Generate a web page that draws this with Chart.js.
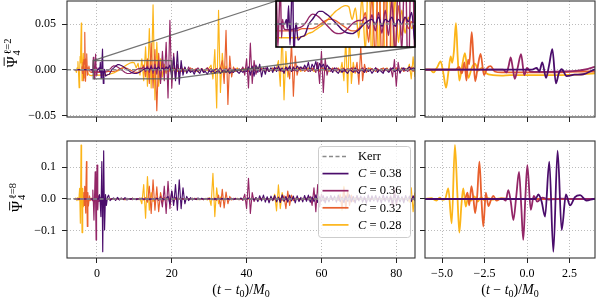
<!DOCTYPE html>
<html>
<head>
<meta charset="utf-8">
<script src="https://cdn.jsdelivr.net/npm/chart.js@4.4.1/dist/chart.umd.min.js"></script>
<style>
  html, body { margin: 0; padding: 0; background: #ffffff; }
  #fig { position: relative; width: 596px; height: 300px; overflow: hidden; background: #ffffff; }
  #fig canvas { position: absolute; left: 0; top: 0; width: 596px; height: 300px; }
</style>
</head>
<body>
<div id="fig">
  <canvas id="pTL" width="596" height="300"></canvas>
  <canvas id="pTR" width="596" height="300"></canvas>
  <canvas id="pBL" width="596" height="300"></canvas>
  <canvas id="pBR" width="596" height="300"></canvas>
  <canvas id="pIN" width="596" height="300"></canvas>
</div>
<script>
// ======================= DATA =======================
// Waveform values are given in units of 1e-3.
// Early part (merger region) : explicit sample times + values.
// Late part : samples on the regular record grid starting at GRID_START with GRID_STEP.
const MILLI = 1e-3;
const GRID_START = 4.5;
const GRID_STEP = 0.5;

const SERIES_NAMES = ['C = 0.38', 'C = 0.36', 'C = 0.32', 'C = 0.28'];
const SERIES_C = ['0.38', '0.36', '0.32', '0.28'];

// ---- l = 2 ----
const L2_C38_T = [-6, 0.3, 0.57, 0.72, 0.9, 1.12, 1.3, 1.49, 1.7, 1.87, 2.04, 2.33, 2.8, 3.31, 3.96];
const L2_C38_V = [0, 0, 2, -2, 8, -9, 5, 22.5, -15, -4, 0.5, -7, -5.5, -5, 0];
const L2_C38_GRID = [
  2, 4, 5.5, 5.5, 4.5, 3.5, 2, 0.5, -1, -2.5, -3.5, -4, -4.2, -3.5, -2.5, -1, 0.5, 1.5,
  2, 0, 3, -1, 2, 1, 3, -1, 2, 0, 3, 1,
  5, -8, 14, -12, 20, -16, 10, -6, 3,
  -4, 0, -3, -1, -5, 0, -2, -4, 1, -3, -2, -5, -1, -3, 0, -4, -2, -1, -4, -2, 0, -3, -1, -4, -2, -3, 0, -2, -4, -1, -3, -1, -2,
  3, -6, 4, -7, 5, -3, 6, -8, 2, -5, 3, -2,
  2, -3, 3, -2, 4, -1, 2, -4, 3, 0, 4, -2, 3, -1, 4, 1, 3, 0,
  5, 1, 8, -2, 6, 2, 9, -1, 7, 3, 6, 0, 5, 2,
  1, -3, 2, -2, -4, 0, -3, 1, -2, -4, 0, -1, -3, 2, -2, -4, 0, -1, -3, 1, -2, 0, -4, -1, 2, -3, 0, -2, -4, 1, -1, -3, 0, 2, -2, -1, 1, -3, 0, 2, -1, 1, 3, 0, 2, 1
];

const L2_C36_T = [-6, -1.4, -1.2, -1.08, -0.96, -0.84, -0.72, -0.55, -0.35, -0.16, 0.0, 0.2, 0.5, 1, 2, 3, 3.6, 4];
const L2_C36_V = [0, 0, -3, 4, 13.4, 2, -10, 2, 17, -6, 2, -2, -2.5, -2.5, -2, -1, 1, 3];
const L2_C36_GRID = [
  4.3, 4, 3, 1.5, 0, -1.5, -3, -4, -4.2, -4, -3, -1.5, 0, 1, 1.5, 1.5,
  3, -2, 4, -3, 5, -4, 6, -5,
  10, -15, 20, -12, 30, -31, 54, -20, 18, -10, 6,
  -5, 4, -3, 2, -2, 3, -1, 1, -2, 0, 2, -1, 1, -3, 0, 2, -1, 1, -2, 0, 1, -1, 2, -2, 0, 1, -1, 2, -1, 0, 1, -2, 1, -1, 3,
  -6, 12, -20, 29, -15, 10, -5,
  3, -2, 1, -1, 2, 0, -2, 1, -1, 0, 2, -1, 1, -2, 0, 1, -1, 2, 0, -1, 1, -2, 0, 1, -1, 2, 0, -2, 1, -1, 2, -3,
  8, -15, 20, -25, 12, -6,
  3, -2, 1, -1, 2, 0, -1, 1, -2, 0, 1, -1, 2, 0, -2, 1, -1, 0, 2, -1, 1, -2, 0, 1, -1, 2, 0, -1, 1, -2, 0, 1, -1, 2,
  -8, 11, -18, 8, -4,
  2, -1, 1, -2, 0, 1, -1, 1
];

const L2_C32_T = [-6, -4.2, -4.0, -3.83, -3.68, -3.56, -3.47, -3.4, -3.25, -3.15, -3.05, -2.89, -2.73, -2.53, -2.33, -2.14, -1.9, -1.5, -1, 0, 1, 2, 3, 4];
const L2_C32_V = [0, 0, 3, -4, 8, -12, 11, 6, 41, 12, -12.7, 4, 17.4, -6, 2, 4, -2, -3, -3, -3, -3, -3, -2, -2];
const L2_C32_GRID = [
  -2, -1.5, -0.5, 0.5, 1.5, 2, 2, 1.5, 0.5, -0.5, -1.5, -2.5, -3, -3, -2, 0,
  5, -8, 12, -15, 29, -20, 22, -45, 18, -12, 8, -5, 3,
  -2, 1, -1, 2, 0, -1, 1, -2, 0, 1, -1, 0, 2, -1, 0, 1, -2, 0, 1, -1, 0, 2, -1, 1, -2, 0, 1, -1, 2,
  10, -15, 43, -38, 15, -8,
  3, -2, 1, -1, 0, 2, -1, 1, -2, 0, 1, -1, 0, 2, -1, 0, 1, -2, 1, 0, -1, 2, 0, -1, 1, -2, 0, 1, -1, 2,
  -10, 30, -29, 15, -6,
  3, -1, 2, -2, 0, 1, -1, 2, 0, -1, 1, -2, 0, 2, -1, 0, 1, -1, 2, 0, -2, 1, 0, -1, 2, -1, 0, 1, -2, 3, -3,
  8, -16, 25, -12, 6,
  -3, 2, -1, 1, 0, -2, 1, -1, 0, 2, -1, 1, -2, 0, 1, -1, 2, 0, -1, 1, -2, 0, 1, -1, 3, -2, 1
];

const L2_C28_T = [-6, -5.7, -5.5, -5.3, -5.08, -4.92, -4.76, -4.62, -4.49, -4.4, -4.3, -4.18, -4.08, -3.98, -3.82, -3.65, -3.45, -3.25, -3.06, -2.85, -2.67, -2.4, -2.0, -1.5, -1, 0, 1, 2, 3, 4];
const L2_C28_V = [0, 0, -3, 2, 9, -4, -19.7, -2, 14.5, 7.5, 20, 51, 15, -12, 4, 18, -9, 2, 6.5, -1, 2, -4, -6, -6.5, -6, -6, -6, -6, -5.5, -4];
const L2_C28_GRID = [
  -3.5, -2.5, -1.5, -0.5, 1, 2.5, 4, 5.5, 6.5, 7.5, 8, 7.5, 2, 7,
  -6, 12, -12, 25, -18, 45, -20, 71, -33, 30, -18,
  12, -8, 6, -4, 3, -2, 1,
  -1, 1, -2, 0, -1, 1, -2, -1, 0, -2, 1, -1, -2, 0, -1, 1, -2, 0, -1, 2,
  5, -10, 22, -42, 65, -25, 18, -8,
  4, -3, 2, -2, 1, -1, 2, -1, 0, -2, 1, 0, -1, 1, -2, 0, 1, -1, 0, 2, -1, 0, 1, -2, 0, 1, -1, 2,
  10, -18, 45, -33, 20, -8,
  3, -2, 1, -1, 2, 0, -2, 1, -1, 0, 2, -1, 1, -2, 0, 1, -1, 2, 0, -1, 1, -2, 0, 1, -1, 0, 2, -3,
  8, -12, 35, -25, 40, -15, 8,
  -4, 2, -1, 1, -2, 0, 1, -1, 2, 0, -1, 1, -2, 0, 1, -1, 0, 2, -1, 1, 0, -2, 1, -1, 0, 2, -1, 1, 0,
  6, -10, 14, -8
];

// ---- l = 8 ----
const L8_C38_T = [-6, 0.5, 0.67, 0.86, 1.06, 1.31, 1.55, 1.8, 2.04, 2.29, 2.53, 2.82, 3.12, 3.5, 3.9];
const L8_C38_V = [0, 0, 14, -8, -55, 117, -165, 151, -97, 14, -20, 6, 12, -5, 0];
const L8_C38_GRID = [
  3, -4, 5, -3, 2, -2, 4, -3, 1, -1, 2, 0, -2, 1, -1, 2, 0, -1, 1, -2, 0, 1, -1, 2, 0, -1, 1, -2, 1,
  8, -15, 25, -20, 45, -35, 60, -30, 35, -15,
  8, -5, 4, -3, 2, -2, 3, -1, 2, -2, 1, -1, 2, 0, -2, 1, -1, 2, -1, 1, -2, 0, 1, -1, 2, -2, 1, 0, -1, 2, -2, 1, -1, 3, -2, 2, -3, 4,
  -8, 10, -6, 12, -10, 7, -12, 9, -5, 11, -9, 6, -11, 13, -7, 8, -10, 12, -6, 9,
  -12, 10, -8, 5, -9, 11, -7, 12, -10, 6, -8, 13, -11, 7, -6, 10, -12, 8, -9, 11,
  -5, 9, -10, 12, -8, 6, -11, 10, -7, 13, -9, 8, -12, 11, -6, 9, -10, 7, -13, 12,
  -8, 10, -6, 11, -9, 8, -12, 13, -7, 9, -10, 6, -11, 12, -8, 10, -9, 7, -12, 11,
  -6, 9, -8, 10, -5
];

const L8_C36_T = [-6, -1.4, -1.25, -1.1, -0.95, -0.8, -0.63, -0.47, -0.34, -0.22, -0.1, 0.02, 0.22, 0.4, 0.6, 0.9, 1.3, 2, 3, 4];
const L8_C36_V = [0, 0, -5, 28, -10, -66, 10, 85, -20, -128, 0, 106, -34, 10, -8, 4, -2, 1, 0, 0];
const L8_C36_GRID = [
  2, -3, 1, -2, 3, -1, 0, 2, -1, 1, -2, 0, 1, -1, 2, 0, -1, 1, -2, 2, -1, 1, -3, 3, -4,
  8, -25, 40, -45, 55, -30, 25, -10,
  5, -3, 2, -1, 1, -2, 0, 1, -1, 2, 0, -1, 1, -2, 0, 1, -1, 2, -1, 0, 1, -2, 1, 0, -1, 2, -1, 1, 0, -2, 1, -1, 2, 0, -2, 3, -4,
  15, -30, 65, -45, 20, -8,
  4, -2, 1, -1, 2, 0, -1, 1, -2, 0, 1, -1, 2, -1, 0, 1, -2, 1, 0, -1, 2, -1, 1, -2, 0, 1, -1, 3, -3,
  8, -20, 35, -40, 45, -25, 15, -6,
  3, -2, 1, -1, 2, 0, -1, 1, -2, 0, 1, -1, 2, -1, 0, 1, -2, 1, 0, -1, 2, -1, 1, -2, 0, 1, -1, 2, 0, -1, 1, -2, 1, 3, -4,
  10, -25, 35, -20, 10, -5,
  3, -2, 1, -1, 2, -1, 1, 0
];

const L8_C32_T = [-6, -3.65, -3.5, -3.4, -3.27, -3.15, -3.05, -2.93, -2.8, -2.68, -2.57, -2.42, -2.27, -2.12, -1.98, -1.8, -1.5, -1, 0, 2, 4];
const L8_C32_V = [0, 0, 20, -20, 40, 0, -44, 10, 117, 0, -86, 20, -22, -3, 10, -5, 2, 0, 0, 0, 0];
const L8_C32_GRID = [
  1, -1, 2, 0, -1, 1, -2, 0, 1, -1, 2, 0, -1, 1, -2, 2, -3, 4,
  -10, 40, -45, 60, -35, 38, -40, 20, -10,
  5, -3, 2, -1, 1, -2, 0, 1, -1, 2, 0, -1, 1, -2, 0, 1, -1, 2, -1, 0, 1, -2, 1, 0, -1, 2, -1, 3, -4,
  12, -25, 30, -28, 22, -15, 8,
  -3, 2, -1, 1, -2, 0, 1, -1, 2, 0, -1, 1, -2, 0, 1, -1, 2, -1, 0, 1, -2, 1, 0, -1, 2, -1, 3, -4,
  10, -30, 25, -20, 12, -5,
  3, -2, 1, -1, 2, 0, -1, 1, -2, 0, 1, -1, 2, -1, 0, 1, -2, 1, 0, -1, 2, -2, 3, -4,
  10, -25, 35, -30, 25, -20, 12, -8, 4,
  -2, 1, -1, 2, 0, -1, 1, -2, 0, 1, -1, 2, -1, 0, 1, -2, 1, 0, -1, 2, -1, 1, -2, 0, 1, -1, 2, 0, -1, 1, -2, 1
];

const L8_C28_T = [-6, -5.62, -5.45, -5.33, -5.14, -4.95, -4.8, -4.63, -4.43, -4.24, -4.1, -3.98, -3.86, -3.75, -3.6, -3.45, -3.3, -3.1, -2.9, -2.7, -2.5, -2.3, -2.0, -1.6, -1.2, 0, 2, 4];
const L8_C28_V = [0, 3, -2, -5, 4, -3, 2, 33, -76, 169, 20, -105, -20, 33, -24, 10, -6, 8, -8, 6, -4, 3, -2, 2, 0, 0, 0, 0];
const L8_C28_GRID = [
  1, -1, 2, 0, -1, 1, -2, 0, 1, -1, 2, -1, 1, -2, 3,
  -15, 45, -60, 70, -35, 20,
  -8, 4, -2, 1, -1, 2, 0, -1, 1, -2, 0, 1, -1, 2, -1, 0, 1, -2, 1, 0, -1, 2, -1, 1, -2, 0, 1, -1, 2, -3, 4,
  -20, 80, -55, 35, -15,
  6, -3, 2, -1, 1, -2, 0, 1, -1, 2, 0, -1, 1, -2, 0, 1, -1, 2, -1, 0, 1, -2, 1, 0, -1, 2, -1, 3, -5,
  15, -37, 44, -30, 20, -8,
  4, -2, 1, -1, 2, 0, -1, 1, -2, 0, 1, -1, 2, -1, 0, 1, -2, 1, 0, -1, 2, -1, 1, -2, 0, 1, -1, 3, -4,
  15, -35, 40, -28, 20, -8,
  4, -2, 1, -1, 2, 0, -1, 1, -2, 0, 1, -1, 2, -1, 0, 1, -2, 1, 0, -1, 2, -1, 1, -2, 0, 1, -1, 2, 0, -2, 3,
  -10, 35, -40, 20
];

// Kerr reference (flat at zero over the window)
const KERR_T = [-8, 85];
const KERR_V = [0, 0];

// axes / ticks
const X_RANGE_LONG = [-8, 85];
const X_RANGE_ZOOM = [-6, 4];
const X_RANGE_INSET = [-1, 20];
const Y_RANGE_L2 = [-0.0518, 0.0752];
const Y_RANGE_L8 = [-0.1846, 0.1814];
const Y_RANGE_INSET = [-0.01, 0.01];
const X_TICKS_LONG = [0, 20, 40, 60, 80];
const X_LABELS_LONG = ['0', '20', '40', '60', '80'];
const X_TICKS_ZOOM = [-5, -2.5, 0, 2.5];
const X_LABELS_ZOOM = ['\u22125.0', '\u22122.5', '0.0', '2.5'];
const Y_TICKS_L2 = [-0.05, 0, 0.05];
const Y_LABELS_L2 = ['\u22120.05', '0.00', '0.05'];
const Y_TICKS_L8 = [-0.1, 0, 0.1];
const Y_LABELS_L8 = ['\u22120.1', '0.0', '0.1'];

// ======================= STYLE =======================
const COLORS = ['#4a0c6b', '#932667', '#e8602d', '#fcb519'];
const KERR_COLOR = '#8a8a8a';
const FONT = '"Liberation Serif", "DejaVu Serif", serif';

// ======================= BUILD =======================
function buildSeries(fineT, fineV, grid) {
  const pts = fineT.map((t, i) => ({ x: t, y: fineV[i] * MILLI }));
  grid.forEach((v, i) => pts.push({ x: GRID_START + i * GRID_STEP, y: v * MILLI }));
  return pts;
}
const L2 = [
  buildSeries(L2_C38_T, L2_C38_V, L2_C38_GRID),
  buildSeries(L2_C36_T, L2_C36_V, L2_C36_GRID),
  buildSeries(L2_C32_T, L2_C32_V, L2_C32_GRID),
  buildSeries(L2_C28_T, L2_C28_V, L2_C28_GRID)
];
const L8 = [
  buildSeries(L8_C38_T, L8_C38_V, L8_C38_GRID),
  buildSeries(L8_C36_T, L8_C36_V, L8_C36_GRID),
  buildSeries(L8_C32_T, L8_C32_V, L8_C32_GRID),
  buildSeries(L8_C28_T, L8_C28_V, L8_C28_GRID)
];
const KERR = KERR_T.map((t, i) => ({ x: t, y: KERR_V[i] }));

function datasets(list, width, smooth, withKerr) {
  const ds = [];
  if (withKerr) ds.push({ label: 'Kerr', data: KERR, borderColor: KERR_COLOR, borderWidth: 1.4, borderDash: [4, 2.5], fill: false, pointRadius: 0 });
  list.forEach((d, i) => ds.push({
    label: SERIES_NAMES[i], data: d, borderColor: COLORS[i], borderWidth: width, fill: false, pointRadius: 0,
    cubicInterpolationMode: smooth ? 'monotone' : 'default'
  }));
  return ds;
}

function labelFor(ticks, labels) {
  return v => { const i = ticks.findIndex(t => Math.abs(t - v) < 1e-9); return i < 0 ? '' : labels[i]; };
}
function axis(range, ticks, labels, size, isX, show) {
  return {
    type: 'linear', display: show !== false, min: range[0], max: range[1],
    afterBuildTicks: s => { s.ticks = ticks.map(v => ({ value: v })); },
    afterFit: s => {
      if (isX) s.height = size; else s.width = size;
      s.paddingTop = 0; s.paddingBottom = 0; s.paddingLeft = 0; s.paddingRight = 0;
    },
    ticks: { callback: labelFor(ticks, labels), autoSkip: false, maxRotation: 0, minRotation: 0, includeBounds: false,
             padding: isX ? 4 : 6, color: '#000', font: { family: FONT, size: 12 } },
    grid: { color: '#b4b4b4', lineWidth: 0.9, drawTicks: true, tickLength: 5, tickColor: '#222', tickWidth: 1 },
    border: { display: false, dash: [1, 2] }
  };
}

// ---- plugins ----
const framePlugin = {
  id: 'frame',
  afterDraw(chart, args, opts) {
    const { ctx, chartArea: a } = chart;
    ctx.save();
    ctx.strokeStyle = opts.color || '#333';
    ctx.lineWidth = opts.width || 1.1;
    ctx.strokeRect(a.left, a.top, a.right - a.left, a.bottom - a.top);
    ctx.restore();
  }
};
const whiteBg = {
  id: 'whiteBg',
  beforeDraw(chart) {
    const { ctx, chartArea: a } = chart;
    ctx.save(); ctx.fillStyle = '#ffffff';
    ctx.fillRect(a.left, a.top, a.right - a.left, a.bottom - a.top);
    ctx.restore();
  }
};
function drawYLabel(ctx, cx, cy, sup) {
  const big = '15px ' + FONT, small = '10.5px ' + FONT;
  ctx.save();
  ctx.translate(cx, cy); ctx.rotate(-Math.PI / 2);
  ctx.fillStyle = '#000'; ctx.textBaseline = 'alphabetic'; ctx.textAlign = 'left';
  ctx.font = big; const wPsi = ctx.measureText('\u03A8').width;
  ctx.font = small; const wSup = ctx.measureText(sup).width;
  const total = wPsi + 1.5 + wSup;
  const x0 = -total / 2;
  ctx.font = big; ctx.fillText('\u03A8', x0, 0);
  ctx.fillRect(x0 + 1.5, -12.8, wPsi - 2.5, 0.9);
  ctx.font = small;
  ctx.fillText(sup, x0 + wPsi + 1.5, -6);
  ctx.fillText('4', x0 + wPsi + 0.8, 3.2);
  ctx.restore();
}
function drawXLabel(ctx, cx, baseY) {
  const R = '14px ' + FONT, I = 'italic 14px ' + FONT, S = '10px ' + FONT;
  const parts = [['(', R, 0], ['t', I, 0], [' \u2212 ', R, 0], ['t', I, 0], ['0', S, 3], [')/', R, 0], ['M', I, 0], ['0', S, 3]];
  ctx.save(); ctx.fillStyle = '#000'; ctx.textBaseline = 'alphabetic'; ctx.textAlign = 'left';
  let total = 0;
  parts.forEach(p => { ctx.font = p[1]; total += ctx.measureText(p[0]).width; });
  let x = cx - total / 2;
  parts.forEach(p => { ctx.font = p[1]; ctx.fillText(p[0], x, baseY + p[2]); x += ctx.measureText(p[0]).width; });
  ctx.restore();
}
const axisLabels = {
  id: 'axisLabels',
  afterDraw(chart, args, opts) {
    const { ctx, chartArea: a } = chart;
    if (opts.ySup) drawYLabel(ctx, opts.yX, (a.top + a.bottom) / 2 + (opts.yShift || 0), opts.ySup);
    if (opts.xLabel) drawXLabel(ctx, (a.left + a.right) / 2, opts.xBase);
  }
};
const legendBox = {
  id: 'legendBox',
  afterDraw(chart) {
    const { ctx, chartArea: a } = chart;
    const w = 92, h = 91, x = a.right - 5 - w, y = a.top + 5;
    ctx.save();
    ctx.beginPath();
    if (ctx.roundRect) ctx.roundRect(x + 0.5, y + 0.5, w, h, 3); else ctx.rect(x + 0.5, y + 0.5, w, h);
    ctx.fillStyle = 'rgba(255,255,255,0.8)'; ctx.fill();
    ctx.strokeStyle = '#cccccc'; ctx.lineWidth = 1; ctx.stroke();
    const rows = [{ name: 'Kerr', color: KERR_COLOR, dash: [4, 2.5] }].concat(
      SERIES_C.map((c, i) => ({ c: c, color: COLORS[i], dash: [] })));
    rows.forEach((r, i) => {
      const cy = y + 10.5 + i * 17.1;
      ctx.beginPath(); ctx.setLineDash(r.dash); ctx.strokeStyle = r.color; ctx.lineWidth = 1.7;
      ctx.moveTo(x + 4.5, cy); ctx.lineTo(x + 30.5, cy); ctx.stroke();
      ctx.setLineDash([]);
      ctx.fillStyle = '#000'; ctx.textBaseline = 'middle'; ctx.textAlign = 'left';
      let tx = x + 40;
      if (r.name) { ctx.font = '12.5px ' + FONT; ctx.fillText(r.name, tx, cy + 0.5); }
      else {
        ctx.font = 'italic 12.5px ' + FONT; ctx.fillText('C', tx, cy + 0.5); tx += ctx.measureText('C').width;
        ctx.font = '12.5px ' + FONT; ctx.fillText(' = ' + r.c, tx, cy + 0.5);
      }
    });
    ctx.restore();
  }
};

function panelChart(id, o) {
  return new Chart(document.getElementById(id), {
    type: 'line',
    data: { datasets: o.datasets },
    options: {
      responsive: false, animation: false, devicePixelRatio: 1, events: [],
      layout: { padding: o.pad },
      elements: { point: { radius: 0 }, line: { tension: 0, borderJoinStyle: 'round' } },
      plugins: Object.assign({ legend: { display: false }, tooltip: { enabled: false } }, o.pluginOpts || {}),
      scales: { x: o.x, y: o.y }
    },
    plugins: o.plugins
  });
}

// inset (zoom of the l=2 panel) — built first so the main panel can link to it
const insetChart = panelChart('pIN', {
  datasets: datasets(L2, 1.4, true, true),
  pad: { left: 276, top: 1, right: 181, bottom: 253 },
  x: axis(X_RANGE_INSET, [], [], 0, true, false),
  y: axis(Y_RANGE_INSET, [], [], 0, false, false),
  plugins: [whiteBg, framePlugin],
  pluginOpts: { frame: { color: '#000', width: 1.6 } }
});

const zoomMarker = {
  id: 'zoomMarker',
  afterDatasetsDraw(chart) {
    const { ctx } = chart, xs = chart.scales.x, ys = chart.scales.y;
    const x0 = xs.getPixelForValue(X_RANGE_INSET[0]), x1 = xs.getPixelForValue(X_RANGE_INSET[1]);
    const y0 = ys.getPixelForValue(Y_RANGE_INSET[1]), y1 = ys.getPixelForValue(Y_RANGE_INSET[0]);
    const ia = insetChart.chartArea;
    ctx.save();
    ctx.strokeStyle = 'rgba(90,90,90,0.85)'; ctx.lineWidth = 1.3;
    ctx.strokeRect(x0, y0, x1 - x0, y1 - y0);
    ctx.beginPath();
    ctx.moveTo(x0, y0); ctx.lineTo(ia.left, ia.top);
    ctx.moveTo(x1, y1); ctx.lineTo(ia.right, ia.bottom);
    ctx.stroke();
    ctx.restore();
  }
};

const EMPTY5 = ['', '', '', '', ''], EMPTY4 = ['', '', '', ''], EMPTY3 = ['', '', ''];

panelChart('pTL', {
  datasets: datasets(L2, 1.15, false, true),
  pad: { left: 0, top: 1, right: 181, bottom: 175 },
  x: axis(X_RANGE_LONG, X_TICKS_LONG, EMPTY5, 8, true),
  y: axis(Y_RANGE_L2, Y_TICKS_L2, Y_LABELS_L2, 67, false),
  plugins: [zoomMarker, framePlugin, axisLabels],
  pluginOpts: { axisLabels: { ySup: '\u2113=2', yX: 16.5, yShift: -6 } }
});
panelChart('pTR', {
  datasets: datasets(L2, 1.8, true, false),
  pad: { left: 410, top: 1, right: 1, bottom: 175 },
  x: axis(X_RANGE_ZOOM, X_TICKS_ZOOM, EMPTY4, 8, true),
  y: axis(Y_RANGE_L2, Y_TICKS_L2, EMPTY3, 15, false),
  plugins: [framePlugin]
});
panelChart('pBL', {
  datasets: datasets(L8, 1.15, false, true),
  pad: { left: 0, top: 141, right: 181, bottom: 12 },
  x: axis(X_RANGE_LONG, X_TICKS_LONG, X_LABELS_LONG, 30, true),
  y: axis(Y_RANGE_L8, Y_TICKS_L8, Y_LABELS_L8, 67, false),
  plugins: [legendBox, framePlugin, axisLabels],
  pluginOpts: { axisLabels: { ySup: '\u2113=8', yX: 22, yShift: -2, xLabel: true, xBase: 294 } }
});
panelChart('pBR', {
  datasets: datasets(L8, 1.8, true, false),
  pad: { left: 410, top: 141, right: 1, bottom: 12 },
  x: axis(X_RANGE_ZOOM, X_TICKS_ZOOM, X_LABELS_ZOOM, 30, true),
  y: axis(Y_RANGE_L8, Y_TICKS_L8, EMPTY3, 15, false),
  plugins: [framePlugin, axisLabels],
  pluginOpts: { axisLabels: { xLabel: true, xBase: 294 } }
});
</script>
</body>
</html>
